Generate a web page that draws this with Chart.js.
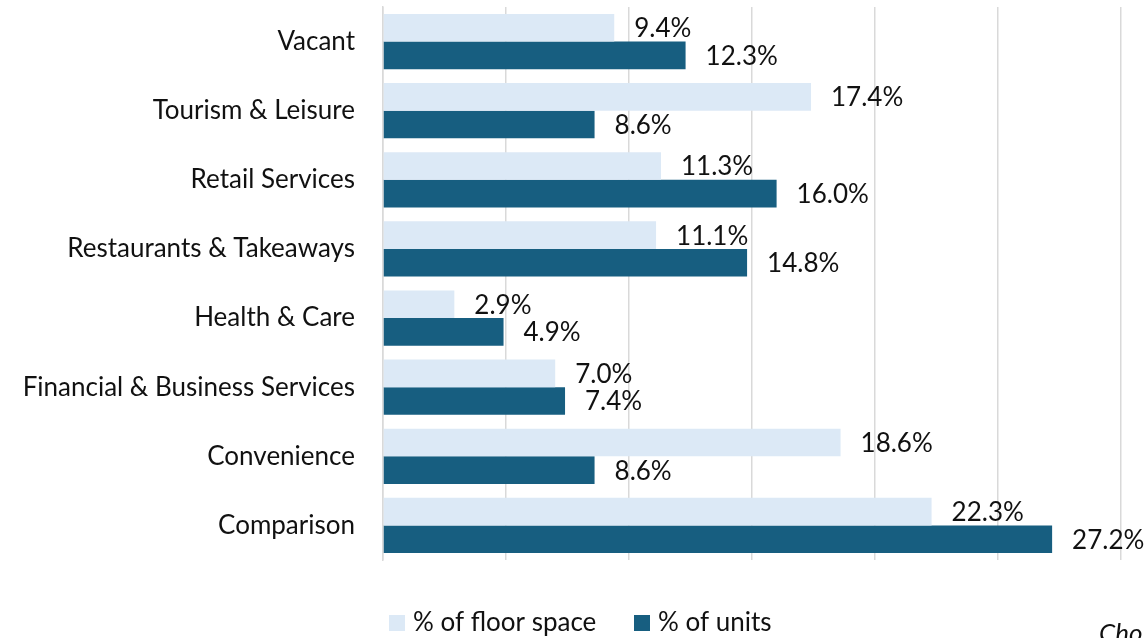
<!DOCTYPE html>
<html>
<head>
<meta charset="utf-8">
<script src="https://cdn.jsdelivr.net/npm/chart.js@4.4.1/dist/chart.umd.min.js"></script>
<style>
  html, body { margin: 0; padding: 0; background: #fff; }
  #wrap { width: 1144px; height: 638px; }
</style>
</head>
<body>
<div id="wrap"><canvas id="chart" width="1144" height="638"></canvas></div>
<script>
const categories = [
  "Vacant", "Tourism & Leisure", "Retail Services", "Restaurants & Takeaways",
  "Health & Care", "Financial & Business Services", "Convenience", "Comparison"
];
const floorSpace = [9.4, 17.4, 11.3, 11.1, 2.9, 7.0, 18.6, 22.3];
const units = [12.3, 8.6, 16.0, 14.8, 4.9, 7.4, 8.6, 27.2];
const seriesNames = ["% of floor space", "% of units"];
const seriesColors = ["#dce9f6", "#175e80"];
const sourceNote = "Cho";

const FONT = "Lato, 'DejaVu Sans', sans-serif";
const FSIZE = 26;

// value labels at bar ends + bottom legend + note
const labelPlugin = {
  id: "barLabels",
  afterDatasetsDraw(chart) {
    const { ctx } = chart;
    ctx.save();
    ctx.font = `${FSIZE}px ${FONT}`;
    ctx.fillStyle = "#111";
    ctx.textAlign = "left";
    ctx.textBaseline = "middle";
    chart.data.datasets.forEach((ds, i) => {
      const meta = chart.getDatasetMeta(i);
      meta.data.forEach((bar, k) => {
        ctx.fillText(ds.data[k].toFixed(1) + "%", bar.x + 20, bar.y + 1);
      });
    });
    ctx.restore();
  },
  afterDraw(chart) {
    const { ctx } = chart;
    ctx.save();
    ctx.font = `${FSIZE}px ${FONT}`;
    ctx.textBaseline = "middle";
    const y = 623;
    let x = 389;
    chart.data.datasets.forEach((ds) => {
      ctx.fillStyle = ds.backgroundColor;
      ctx.fillRect(x, y - 8, 16, 16);
      ctx.fillStyle = "#111";
      ctx.fillText(ds.label, x + 24, y);
      x += 245;
    });
    ctx.font = `italic ${FSIZE}px ${FONT}`;
    ctx.fillText(sourceNote, 1099, 634);
    ctx.restore();
  }
};

new Chart(document.getElementById("chart").getContext("2d"), {
  type: "bar",
  data: {
    labels: categories,
    datasets: [
      { label: seriesNames[0], data: floorSpace, backgroundColor: seriesColors[0] },
      { label: seriesNames[1], data: units, backgroundColor: seriesColors[1] }
    ]
  },
  options: {
    indexAxis: "y",
    responsive: false,
    animation: false,
    categoryPercentage: 0.8,
    barPercentage: 1.0,
    layout: { padding: { top: 7, right: 23, bottom: 78, left: 0 } },
    plugins: { legend: { display: false }, tooltip: { enabled: false } },
    scales: {
      x: {
        min: 0, max: 30,
        ticks: { display: false, stepSize: 5 },
        grid: { color: "#d9d9d9", lineWidth: 1.5, drawTicks: false },
        border: { display: false },
        afterFit: (s) => { s.height = 0; s.paddingLeft = 0; s.paddingRight = 0; }
      },
      y: {
        ticks: { color: "#111", font: { family: FONT, size: FSIZE }, padding: 20 },
        grid: { display: false },
        border: { color: "#d9d9d9", width: 1.5 },
        afterFit: (s) => { s.width = 383; s.paddingTop = 0; s.paddingBottom = 0; }
      }
    }
  },
  plugins: [labelPlugin]
});
</script>
</body>
</html>
